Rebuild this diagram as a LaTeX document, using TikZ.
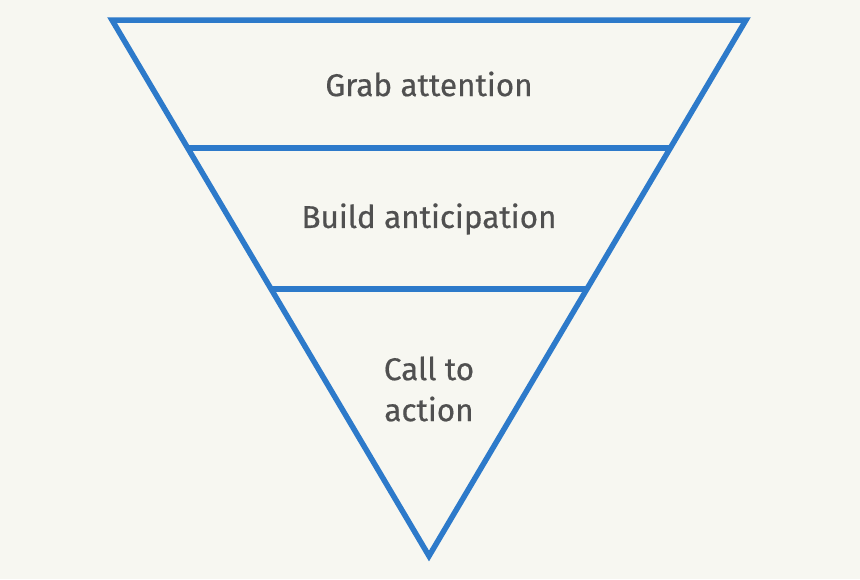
\documentclass[tikz,border=0pt]{standalone}
\usepackage{fontspec}
\setmainfont{Fira Sans}[UprightFeatures={FakeBold=0.5}]
\usetikzlibrary{calc}
\definecolor{funnelblue}{RGB}{45, 122, 202}
\definecolor{paperbg}{RGB}{247, 247, 241}
\definecolor{labelgray}{RGB}{80, 80, 80}

\begin{document}
\begin{tikzpicture}[
  x=1pt, y=-1pt,
  edge/.style={draw=funnelblue, line width=5.5pt, line join=miter},
  stage/.style={align=center, text=labelgray, font=\fontsize{31.5}{41}\selectfont, inner sep=0pt},
]
% background and bounds
\fill[paperbg] (0,0) rectangle (860,579);
\useasboundingbox (0,0) rectangle (860,579);

% funnel corners
\coordinate (tl) at (112,20);
\coordinate (tr) at (746,20);
\coordinate (apex) at (429,556);

% band dividers on the sides
\coordinate (l1) at ($(tl)!0.2388!(apex)$);
\coordinate (r1) at ($(tr)!0.2388!(apex)$);
\coordinate (l2) at ($(tl)!0.5019!(apex)$);
\coordinate (r2) at ($(tr)!0.5019!(apex)$);

\draw[edge] (tl) -- (tr) -- (apex) -- cycle;
\draw[edge] (l1) -- (r1);
\draw[edge] (l2) -- (r2);

% stage labels
\node[stage] (grab) at (429,84) {Grab attention};
\node[stage] (build) at (429,219) {Build anticipation};
\node[stage] (call) at (429,389) {Call to\\action};
\end{tikzpicture}
\end{document}
